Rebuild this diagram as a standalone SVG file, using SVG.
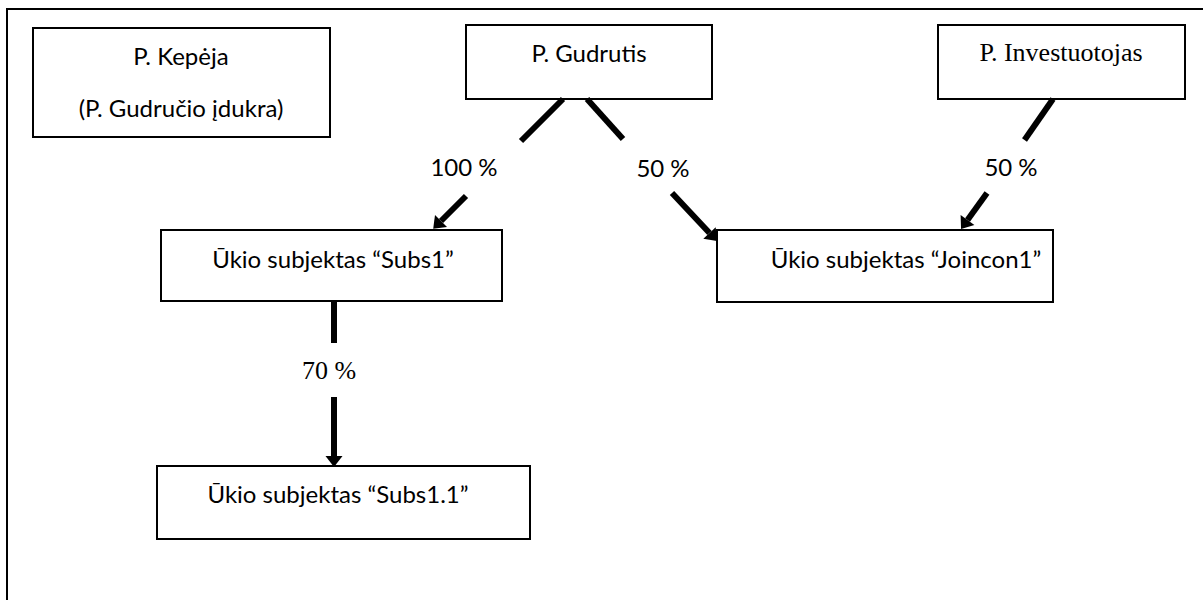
<svg xmlns="http://www.w3.org/2000/svg" width="1203" height="600" viewBox="0 0 1203 600">
  <style>
    .box { fill: #ffffff; stroke: #000000; stroke-width: 2; }
    .sans { font-family: Lato, "Open Sans", "Liberation Sans", sans-serif; font-size: 24px; fill: #000000; }
    .serif { font-family: "Liberation Serif", "Times New Roman", serif; font-size: 26px; fill: #000000; }
    .conn { stroke: #000000; stroke-width: 6; fill: none; stroke-linecap: butt; }
  </style>
  <defs>
    <marker id="arrow" markerUnits="userSpaceOnUse" markerWidth="14" markerHeight="20" refX="0" refY="0" viewBox="0 -10 14 20" orient="auto" overflow="visible">
      <path d="M0,-8.5 L11,0 L0,8.5 z" fill="#000000"/>
    </marker>
  </defs>
  <rect x="0" y="0" width="1203" height="600" fill="#ffffff"/>
  <path id="frame" d="M7,610 V9 H1215" fill="none" stroke="#000000" stroke-width="2"/>

  <g id="node-kepeja">
    <rect class="box" x="33" y="28" width="297" height="109"/>
    <text class="sans" x="181" y="65" text-anchor="middle">P. Kepėja</text>
    <text class="sans" x="181" y="117" text-anchor="middle">(P. Gudručio įdukra)</text>
  </g>
  <g id="node-gudrutis">
    <rect class="box" x="466" y="25" width="246" height="74"/>
    <text class="sans" x="589" y="62" text-anchor="middle">P. Gudrutis</text>
  </g>
  <g id="node-investuotojas">
    <rect class="box" x="938" y="25" width="247" height="74"/>
    <text class="serif" x="1061" y="61" text-anchor="middle">P. Investuotojas</text>
  </g>
  <g id="node-subs1">
    <rect class="box" x="161" y="230" width="341" height="71"/>
    <text class="sans" x="333" y="268" text-anchor="middle">Ūkio subjektas “Subs1”</text>
  </g>
  <g id="node-joincon1">
    <rect class="box" x="717" y="230" width="336" height="72"/>
    <text class="sans" x="906" y="268" text-anchor="middle">Ūkio subjektas “Joincon1”</text>
  </g>
  <g id="node-subs11">
    <rect class="box" x="157" y="466" width="373" height="73"/>
    <text class="sans" x="338" y="503" text-anchor="middle">Ūkio subjektas “Subs1.1”</text>
  </g>

  <g id="connectors">
    <line class="conn" x1="563" y1="99" x2="521" y2="141"/>
    <line class="conn" x1="466" y1="196" x2="441" y2="221" marker-end="url(#arrow)"/>
    <text class="sans" x="464" y="176" text-anchor="middle">100 %</text>

    <line class="conn" x1="587" y1="99" x2="623" y2="139"/>
    <line class="conn" x1="672" y1="193" x2="709.5" y2="233" marker-end="url(#arrow)"/>
    <text class="sans" x="663" y="177" text-anchor="middle">50 %</text>

    <line class="conn" x1="1053" y1="99" x2="1024.5" y2="140"/>
    <line class="conn" x1="987" y1="193" x2="967.5" y2="220" marker-end="url(#arrow)"/>
    <text class="sans" x="1011" y="176" text-anchor="middle">50 %</text>

    <line class="conn" x1="334" y1="301" x2="334" y2="343"/>
    <line class="conn" x1="334" y1="397" x2="334" y2="456" marker-end="url(#arrow)"/>
    <text class="serif" x="329" y="379" text-anchor="middle">70 %</text>
  </g>
</svg>
